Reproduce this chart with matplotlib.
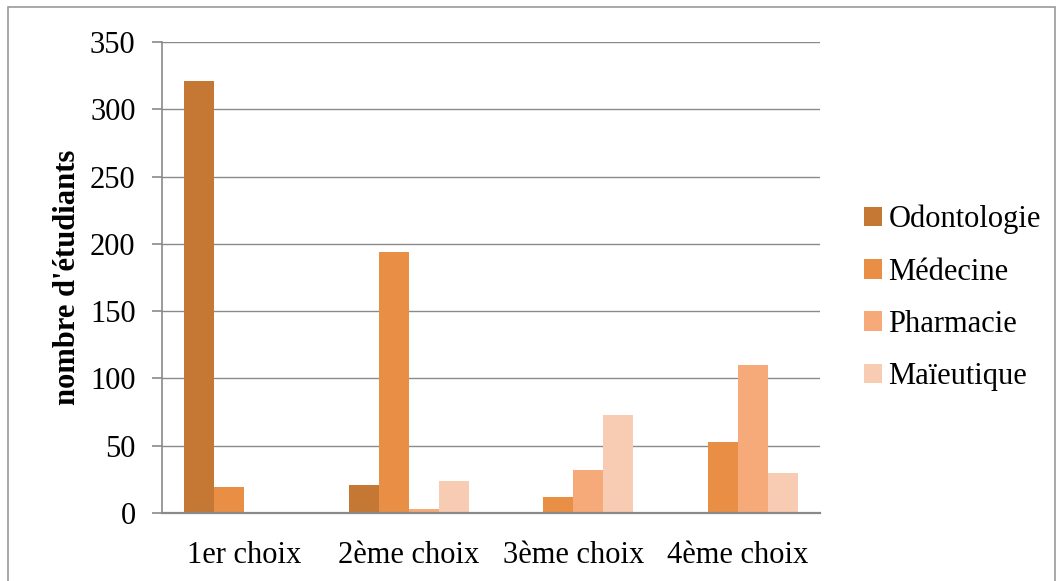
import matplotlib
matplotlib.use("Agg")
import matplotlib.pyplot as plt
from matplotlib.patches import Rectangle
import numpy as np

plt.rcParams['font.family'] = ['Liberation Serif', 'DejaVu Serif']

categories = ["1er choix", "2ème choix", "3ème choix", "4ème choix"]
series_names = ["Odontologie", "Médecine", "Pharmacie", "Maïeutique"]
odontologie = [321, 21, 1, 0]
medecine = [19, 194, 12, 53]
pharmacie = [1, 3, 32, 110]
maieutique = [0, 24, 73, 30]
series_values = [odontologie, medecine, pharmacie, maieutique]
colors = ["#C47834", "#E88E45", "#F6AA79", "#F8CBB3"]

W, H = 1062, 581
fig = plt.figure(figsize=(W / 100, H / 100), dpi=100)
# plot area in pixels: x 162..820, y 42..513
ax = fig.add_axes([162 / W, 1 - 513 / H, (820 - 162) / W, (513 - 42) / H])

# outer chart frame
fig.patches.append(Rectangle((8 / W, -0.01), (1055 - 8) / W, 1 - 7 / H + 0.01,
                             transform=fig.transFigure, fill=False,
                             edgecolor="#9a9a9a", linewidth=1.2))

x = np.arange(len(categories))
w = 1 / 5.5  # excel gap width 150%
for i, (name, vals, c) in enumerate(zip(series_names, series_values, colors)):
    ax.bar(x + (i - 1.5) * w, vals, width=w, color=c, label=name, zorder=3)

ax.set_xlim(-0.5, len(categories) - 0.5)
ax.set_ylim(0, 350)
ax.set_yticks(range(0, 351, 50))
ax.set_xticks(x)
ax.set_xticklabels(categories)
ax.grid(axis="y", color="#8a8a8a", linewidth=1.0, zorder=0)

for s in ["top", "right"]:
    ax.spines[s].set_visible(False)
ax.spines["left"].set_color("#8a8a8a")
ax.spines["bottom"].set_color("#8a8a8a")
ax.spines["left"].set_linewidth(1.2)
ax.spines["bottom"].set_linewidth(1.6)
ax.spines["bottom"].set_zorder(4)

ax.tick_params(axis="y", length=7, width=1.2, color="#8a8a8a", labelsize=22, pad=12)
ax.tick_params(axis="x", length=0, labelsize=22, pad=20)

ax.set_ylabel("nombre d'étudiants", fontsize=22, fontweight="bold", labelpad=6)

ax.legend(loc="center left", bbox_to_anchor=((864 - 162) / 658, (513 - 298) / 471),
          frameon=False, fontsize=22, handlelength=0.6, handleheight=0.6,
          handletextpad=0.2, labelspacing=0.76, borderaxespad=0, borderpad=0)

fig.savefig("out.png", dpi=100)
